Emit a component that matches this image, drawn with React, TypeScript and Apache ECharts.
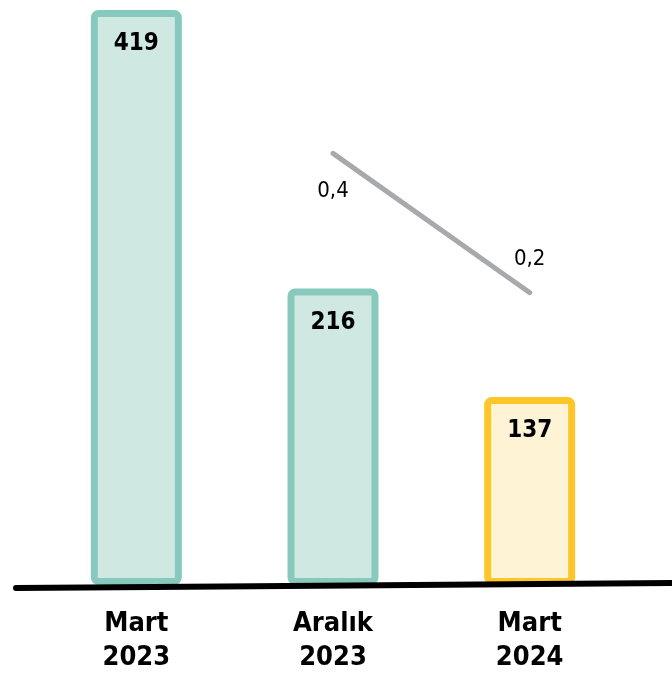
import React, { useEffect, useRef } from "react";
import * as echarts from "echarts";

const categories = ["Mart\n2023", "Aralık\n2023", "Mart\n2024"];
const barValues = [419, 216, 137];
const lineValues: (number | null)[] = [null, 0.4, 0.2];

const TEAL_STROKE = "#88C9BD";
const TEAL_FILL = "#CFE8E2";
const YEL_STROKE = "#FFC629";
const YEL_FILL = "#FFF3D6";

export default function App() {
  const ref = useRef<HTMLDivElement>(null);
  useEffect(() => {
    document.body.style.margin = "0";
    const chart = echarts.init(ref.current!, null, { renderer: "svg" });
    const font = "'DejaVu Sans Condensed', 'DejaVu Sans', sans-serif";
    chart.setOption({
      animation: false,
      grid: { left: 38, right: 44, top: 10, bottom: 91 },
      xAxis: {
        type: "category",
        data: categories,
        axisLine: { show: false },
        axisTick: { show: false },
        axisLabel: {
          margin: 19,
          color: "#000",
          fontFamily: font,
          fontWeight: "bold",
          fontSize: 27,
          lineHeight: 34,
        },
      },
      yAxis: [
        { type: "value", min: 0, max: "dataMax", show: false },
        { type: "value", min: -0.22, max: 0.606, show: false },
      ],
      series: [
        {
          type: "bar",
          barWidth: 91,
          data: barValues.map((v, i) => ({
            value: v,
            itemStyle:
              i === 2
                ? { color: YEL_FILL, borderColor: YEL_STROKE }
                : { color: TEAL_FILL, borderColor: TEAL_STROKE },
          })),
          itemStyle: { borderWidth: 7, borderRadius: 4 },
          label: {
            show: true,
            position: "insideTop",
            distance: 20,
            color: "#000",
            fontFamily: font,
            fontWeight: "bold",
            fontSize: 24,
          },
        },
        {
          type: "line",
          yAxisIndex: 1,
          data: lineValues.map((v, i) => ({
            value: v,
            label: {
              position: i === 1 ? "bottom" : "top",
              distance: i === 1 ? 25 : 24,
            },
          })),
          symbol: "circle",
          symbolSize: 1,
          itemStyle: { color: "#A7A9AC" },
          lineStyle: { color: "#A7A9AC", width: 5, cap: "round" },
          label: {
            show: true,
            color: "#000",
            fontFamily: font,
            fontSize: 22,
            formatter: (p: any) => String(p.value).replace(".", ","),
          },
          z: 3,
        },
      ],
      graphic: [
        {
          type: "line",
          shape: { x1: 16, y1: 588, x2: 672, y2: 583 },
          style: { stroke: "#000", lineWidth: 6, lineCap: "round" },
          z: 10,
        },
      ],
    });
    return () => chart.dispose();
  }, []);
  return (
    <div
      ref={ref}
      style={{ position: "fixed", left: 0, top: 0, width: 672, height: 676 }}
    />
  );
}
